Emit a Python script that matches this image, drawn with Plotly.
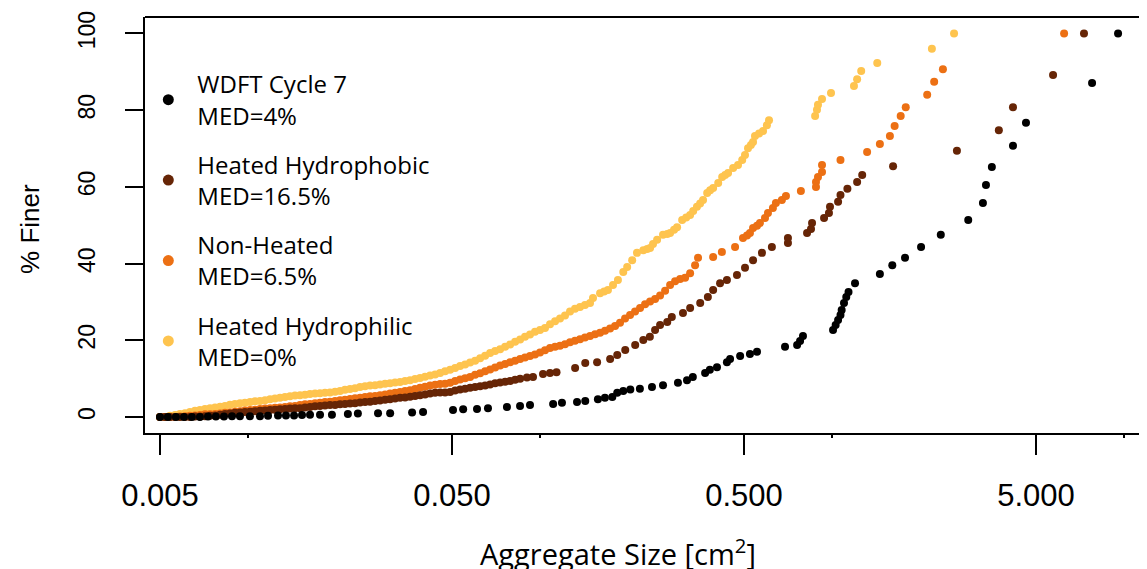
import plotly.graph_objects as go

# ---------------- data ----------------
wdft_size = [0.00500,0.00532,0.00567,0.00604,0.00643,0.00685,0.00730,0.00777,0.00828,0.00882,
             0.00939,0.01016,0.0110,0.01172,0.01268,0.0135,0.01439,0.01532,0.01632,0.01766,
             0.0194,0.0220,0.0238,0.0279,0.0307,0.0365,0.0398,0.0504,0.0546,0.0609,
             0.0664,0.0771,0.0855,0.0925,0.111,0.119,0.134,0.143,0.158,0.167,
             0.177,0.184,0.193,0.204,0.220,0.242,0.264,0.297,0.319,0.334,
             0.368,0.382,0.404,0.437,0.448,0.485,0.524,0.554,0.691,0.760,
             0.778,0.796,1.009,1.03,1.05,1.07,1.08,1.10,1.12,1.14,
             1.20,1.46,1.61,1.78,2.02,2.36,2.93,3.29,3.37,3.53,
             4.17,4.62,7.78,9.55]
wdft_pct = [0.0,0.0,0.0,0.0,0.0,0.0,0.1,0.1,0.1,0.2,
            0.2,0.2,0.2,0.3,0.4,0.4,0.4,0.5,0.6,0.6,
            0.6,0.8,0.9,1.0,1.0,1.2,1.3,1.8,2.0,2.1,
            2.3,2.6,2.9,3.1,3.4,3.7,3.9,4.2,4.6,5.0,
            5.2,6.3,6.8,7.2,7.4,7.8,8.3,8.9,9.6,10.4,
            11.5,12.3,13.0,14.3,15.1,15.9,16.4,17.0,18.3,18.8,
            19.8,21.1,22.7,24.0,25.3,26.6,27.9,29.7,31.3,32.6,
            34.9,37.3,39.6,41.5,44.3,47.5,51.4,55.8,60.5,65.2,
            70.7,76.7,87.1,100.0]

phobic_size = [0.00500,0.00520,0.00541,0.00563,0.00585,0.00609,0.00633,0.00659,0.00685,0.00713,
               0.00742,0.00772,0.00803,0.00835,0.00868,0.00903,0.00940,0.00977,0.01017,0.01058,
               0.01100,0.01145,0.01191,0.01238,0.01288,0.01340,0.01394,0.01450,0.01508,0.01569,
               0.01632,0.01698,0.01766,0.01837,0.01911,0.01988,0.02068,0.02151,0.02238,0.02328,
               0.02422,0.02519,0.02620,0.02726,0.02835,0.02950,0.03068,0.03192,0.03320,0.03454,
               0.03593,0.03737,0.03887,0.04044,0.04207,0.04376,0.04552,0.04735,0.04926,0.05124,
               0.05330,0.05544,0.05767,0.05999,0.06241,0.06492,0.06753,0.07025,0.07307,0.07601,
               0.07907,0.08225,0.08556,
               0.0903,0.0947,0.1025,0.1083,0.114,0.132,0.143,0.157,0.174,0.184,
               0.196,0.212,0.226,0.238,0.248,0.258,0.273,0.283,0.309,0.327,
               0.354,0.376,0.392,0.414,0.437,0.473,0.504,0.537,0.576,0.623,
               0.707,0.707,0.822,0.848,0.855,0.940,0.977,0.985,1.05,1.07,
               1.13,1.22,1.27,1.62,2.68,3.73,4.17,5.72,7.30]
phobic_pct = [0.0,0.0,0.0,0.0,0.0,0.0,0.0,0.1,0.1,0.2,
              0.3,0.4,0.6,0.8,0.9,1.1,1.2,1.3,1.4,1.5,
              1.6,1.7,1.8,1.9,2.0,2.1,2.2,2.3,2.3,2.5,
              2.6,2.8,2.9,3.0,3.1,3.1,3.3,3.4,3.5,3.6,
              3.8,3.9,4.0,4.2,4.3,4.5,4.6,4.8,5.0,5.1,
              5.3,5.5,5.7,5.9,6.1,6.3,6.4,6.4,6.5,6.9,
              7.2,7.4,7.6,7.8,8.0,8.2,8.5,8.8,9.0,9.2,
              9.4,9.7,10.0,
              10.3,10.4,11.2,11.5,11.7,12.8,14.1,14.3,15.1,16.2,
              17.5,18.8,20.1,20.9,22.7,24.0,24.8,26.1,27.1,28.4,
              29.7,31.3,33.1,34.9,35.7,37.0,38.9,40.9,42.8,44.3,
              45.4,46.7,48.0,49.0,50.6,51.9,53.2,54.8,56.1,57.9,
              59.5,61.3,63.1,65.4,69.4,74.8,80.8,89.2,100.0]

nonheat_size = [0.00500,0.00520,0.00541,0.00563,0.00585,0.00609,0.00633,0.00659,0.00685,0.00713,
                0.00742,0.00772,0.00803,0.00835,0.00868,0.00903,0.00940,0.00977,0.01017,0.01058,
                0.01100,0.01145,0.01191,0.01238,0.01288,0.01340,0.01394,0.01450,0.01508,0.01569,
                0.01632,0.01698,0.01766,0.01837,0.01911,0.01988,0.02068,0.02151,0.02238,0.02328,
                0.02422,0.02519,0.02620,0.02726,0.02835,0.02950,0.03068,0.03192,0.03320,0.03454,
                0.03593,0.03737,0.03887,0.04044,0.04207,0.04376,0.04552,0.04735,0.04926,0.05124,
                0.05330,0.05544,0.05767,0.05999,0.06241,0.06492,0.06753,0.07025,0.07307,0.07601,
                0.07907,0.08225,0.08556,0.08891,0.09249,0.09621,0.1001,0.1041,0.1083,0.1127,
                0.1172,0.1219,0.1268,0.1319,0.1372,0.1427,0.1485,0.1545,0.1607,0.1671,
                0.1739,0.1809,0.1881,0.1957,0.2036,0.2118,0.2203,0.2292,0.2384,0.2480,
                0.2580,0.2684,0.2792,0.2904,0.3021,0.3142,0.3269,0.3400,
                0.348,0.392,0.420,0.466,0.496,0.512,0.524,0.537,0.554,0.567,
                0.590,0.604,0.628,0.643,0.674,0.696,0.783,0.882,0.882,0.896,
                0.925,0.925,1.07,1.32,1.46,1.58,1.64,1.72,1.79,2.12,
                2.24,2.40,6.24]
nonheat_pct = [0.0,0.0,0.0,0.0,0.1,0.2,0.3,0.4,0.5,0.7,
               0.7,0.8,0.9,1.1,1.2,1.4,1.5,1.7,1.8,1.9,
               2.1,2.2,2.3,2.4,2.5,2.6,2.8,2.9,3.1,3.3,
               3.4,3.6,3.7,3.9,4.0,4.2,4.4,4.5,4.7,4.9,
               5.0,5.2,5.4,5.5,5.7,5.9,6.1,6.3,6.5,6.8,
               7.0,7.3,7.6,7.9,8.2,8.4,8.6,8.7,8.9,9.4,
               9.8,10.1,10.4,11.0,11.4,11.9,12.4,12.9,13.4,13.8,
               14.3,14.7,15.1,15.5,15.9,16.3,16.8,17.4,18.0,18.3,
               18.6,19.0,19.5,19.9,20.3,20.7,21.1,21.6,22.0,22.5,
               23.1,23.7,24.6,25.7,26.6,27.5,28.4,29.4,30.1,30.8,
               31.7,32.9,34.4,35.4,36.0,36.3,37.5,39.6,
               41.5,41.7,43.0,44.3,46.7,47.3,48.0,49.3,49.9,50.6,
               51.9,53.2,54.5,55.8,56.6,57.6,58.9,60.0,61.3,62.6,
               63.9,65.7,67.0,69.1,71.2,73.3,75.9,78.5,80.8,84.0,
               87.4,90.7,100.0]

philic_size = [0.00500,0.00520,0.00541,0.00563,0.00585,0.00609,0.00633,0.00659,0.00685,0.00713,
               0.00742,0.00772,0.00803,0.00835,0.00868,0.00903,0.00940,0.00977,0.01017,0.01058,
               0.01100,0.01145,0.01191,0.01238,0.01288,0.01340,0.01394,0.01450,0.01508,0.01569,
               0.01632,0.01698,0.01766,0.01837,0.01911,0.01988,0.02068,0.02151,0.02238,0.02328,
               0.02422,0.02519,0.02620,0.02726,0.02835,0.02950,0.03068,0.03192,0.03320,0.03454,
               0.03593,0.03737,0.03887,0.04044,0.04207,0.04376,0.04552,0.04735,0.04926,0.05124,
               0.05330,0.05544,0.05767,0.05999,0.06241,0.06492,0.06753,0.07025,0.07307,0.07601,
               0.07907,0.08225,0.08556,0.08891,0.09249,0.09621,0.1001,0.1041,0.1083,0.1127,
               0.1172,0.1219,0.1268,0.1319,0.1372,0.1427,0.1485,
               0.152,0.1607,0.166,0.171,0.178,0.185,0.193,0.199,0.207,0.215,
               0.226,0.233,0.2384,0.244,0.252,0.264,0.273,0.2792,0.288,0.295,
               0.307,0.317,0.3269,0.335,0.345,0.3537,0.362,0.374,0.3828,0.392,
               0.408,0.421,0.4309,0.441,0.459,0.477,0.493,0.5039,0.516,0.528,
               0.537,0.5453,0.563,0.581,0.599,0.609,0.876,0.889,0.896,0.925,
               0.993,1.19,1.22,1.26,1.43,2.20,2.62]
philic_pct = [0.0,0.0,0.3,0.5,0.8,1.0,1.3,1.6,1.8,2.1,
              2.3,2.5,2.7,2.9,3.2,3.4,3.6,3.7,3.9,4.1,
              4.2,4.4,4.6,4.8,5.0,5.2,5.4,5.6,5.7,5.8,
              6.0,6.1,6.2,6.3,6.4,6.6,6.8,7.1,7.3,7.5,
              7.8,8.0,8.2,8.3,8.5,8.7,8.8,9.0,9.1,9.4,
              9.6,9.9,10.2,10.5,10.8,11.1,11.5,11.9,12.3,12.8,
              13.3,13.7,14.2,14.7,15.3,16.0,16.7,17.2,17.7,18.3,
              18.9,19.6,20.2,20.9,21.5,22.2,22.7,23.2,24.2,25.0,
              25.7,26.5,27.5,28.2,28.7,29.2,29.7,
              31.0,32.3,32.7,33.1,34.4,35.7,37.8,39.1,40.9,42.8,
              43.5,43.8,44.1,45.1,46.2,47.5,47.7,48.0,48.8,49.5,
              51.4,52.0,52.7,53.7,54.8,55.7,56.6,58.4,59.1,59.7,
              61.0,62.6,63.1,63.6,64.9,65.7,67.0,68.3,70.1,70.9,
              71.7,73.3,73.9,74.6,76.1,77.4,78.5,80.1,81.4,82.9,
              84.5,86.3,88.1,90.2,92.3,96.0,100.0]

for a, b in [(wdft_size, wdft_pct), (phobic_size, phobic_pct),
             (nonheat_size, nonheat_pct), (philic_size, philic_pct)]:
    assert len(a) == len(b), (len(a), len(b))

legend_names = ["WDFT Cycle 7<br>MED=4%", "Heated Hydrophobic<br>MED=16.5%",
                "Non-Heated<br>MED=6.5%", "Heated Hydrophilic<br>MED=0%"]
colors = ["#000000", "#662506", "#EC7014", "#FEC44F"]

x_tickvals = [0.005, 0.05, 0.5, 5]
x_ticktext = ["0.005", "0.050", "0.500", "5.000"]
x_minor = [0.01, 0.1, 1, 10]
y_tickvals = [0, 20, 40, 60, 80, 100]

# ---------------- figure ----------------
fig = go.Figure()
series = [(philic_size, philic_pct, colors[3]),
          (nonheat_size, nonheat_pct, colors[2]),
          (phobic_size, phobic_pct, colors[1]),
          (wdft_size, wdft_pct, colors[0])]
for xs, ys, c in series:
    fig.add_trace(go.Scatter(x=xs, y=ys, mode="markers", showlegend=False,
                             marker=dict(color=c, size=8, line=dict(width=0))))

for i, (name, c) in enumerate(zip(legend_names, colors)):
    fig.add_trace(go.Scatter(x=[None], y=[None], mode="markers", name=name,
                             legendgroup=str(i), legendrank=i + 1,
                             marker=dict(color=c, size=11, line=dict(width=0))))

# the page body adds an 8px offset, so the figure is 8px smaller than the window
fig.update_layout(
    width=1139, height=561,
    margin=dict(l=137, r=0, t=9, b=136, autoexpand=False),
    plot_bgcolor="white", paper_bgcolor="white",
    legend=dict(xref="container", yref="container", x=0.1153, y=0.9037,
                xanchor="left", yanchor="top", valign="middle", maxheight=500,
                itemwidth=48, tracegroupgap=15, bgcolor="rgba(0,0,0,0)",
                font=dict(family="Open Sans", size=24, color="black")),
    xaxis=dict(type="log", range=[-2.3524, 1.0791],
               tickmode="array", tickvals=x_tickvals, ticktext=x_ticktext,
               ticks="outside", ticklen=20, tickwidth=1.5, tickcolor="black",
               showline=True, linecolor="black", linewidth=1.5,
               showgrid=False, zeroline=False, ticklabelstandoff=14,
               tickfont=dict(family="Liberation Sans", size=31, color="black"),
               minor=dict(tickmode="array", tickvals=x_minor, ticks="outside",
                          ticklen=3, tickwidth=1.5, tickcolor="black", showgrid=False)),
    yaxis=dict(range=[-4.17, 104.3], tickmode="array", tickvals=y_tickvals,
               ticks="outside", ticklen=18, tickwidth=1.5, tickcolor="black",
               showline=True, linecolor="black", linewidth=1.5,
               showgrid=False, zeroline=False, tickangle=-90, ticklabelstandoff=21,
               tickfont=dict(family="Liberation Sans", size=23, color="black")),
    shapes=[dict(type="line", xref="paper", yref="paper", x0=0, x1=1, y0=1, y1=1,
                 line=dict(color="black", width=2))],
    annotations=[
        dict(text="% Finer", xref="paper", yref="paper", x=-0.115, y=0.49,
             textangle=-90, showarrow=False, xanchor="center", yanchor="middle",
             font=dict(family="Liberation Sans", size=26, color="black")),
        dict(text="Aggregate Size [cm<sup>2</sup>]", xref="paper", yref="paper",
             x=0.472, y=-0.286, showarrow=False, xanchor="center", yanchor="middle",
             font=dict(family="Open Sans", size=29, color="black")),
    ],
)

fig.write_html("out.html")
